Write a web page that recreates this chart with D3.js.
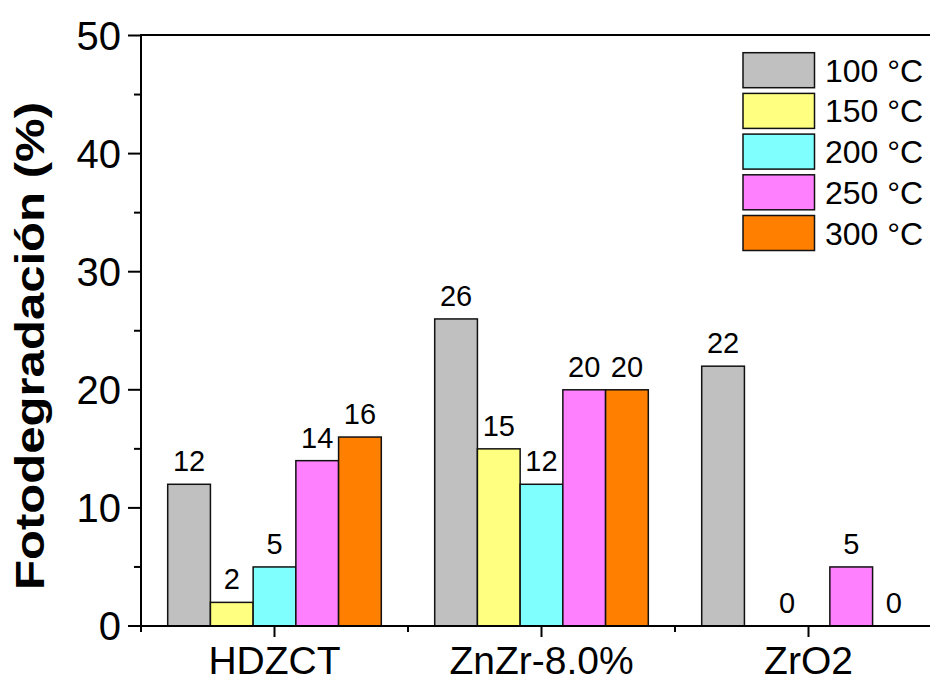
<!DOCTYPE html>
<html>
<head>
<meta charset="utf-8">
<script src="https://cdn.jsdelivr.net/npm/d3@7"></script>
<style>
  html, body { margin: 0; padding: 0; background: #fff; }
  svg { display: block; }
  text { font-family: "Liberation Sans", Arial, Helvetica, sans-serif; fill: #000; }
</style>
</head>
<body>
<svg id="chart" width="930" height="682"></svg>
<script>
// Samples (groups along the x axis)
const categories = ["HDZCT", "ZnZr-8.0%", "ZrO2"];
// Calcination temperatures (one bar per temperature in every group)
const series = ["100 °C", "150 °C", "200 °C", "250 °C", "300 °C"];
// Photodegradation (%) per sample, in the order of `series`
const valuesHDZCT = [12, 2, 5, 14, 16];
const valuesZnZr = [26, 15, 12, 20, 20];
const valuesZrO2 = [22, 0, 0, 5, 0];
const yTicks = [0, 10, 20, 30, 40, 50];
const yMinorTicks = [5, 15, 25, 35, 45];

const colors = ["#C0C0C0", "#FFFF80", "#80FFFF", "#FF80FF", "#FF8000"];

const rows = [valuesHDZCT, valuesZnZr, valuesZrO2].map((vals, i) => ({
  category: categories[i],
  values: vals.map((v, j) => ({ key: series[j], value: v, idx: j }))
}));

const svg = d3.select("#chart");
const plotLeft = 141, plotTop = 35.5, plotBottom = 626, plotRight = 942;

const x0 = d3.scaleBand().domain(categories).range([plotLeft, plotRight]).paddingInner(0).paddingOuter(0);
const x1 = d3.scaleBand().domain(series).range([0, x0.bandwidth()]).paddingInner(0).paddingOuter(0.625);
const y = d3.scaleLinear().domain([0, 50]).range([plotBottom, plotTop]);
const color = d3.scaleOrdinal().domain(series).range(colors);

// Bars
const groups = svg.append("g").selectAll("g")
  .data(rows).join("g")
  .attr("transform", d => `translate(${x0(d.category)},0)`);

groups.selectAll("rect")
  .data(d => d.values).join("rect")
  .attr("x", d => x1(d.key))
  .attr("y", d => y(d.value))
  .attr("width", x1.bandwidth())
  .attr("height", d => y(0) - y(d.value))
  .attr("fill", d => color(d.key))
  .attr("stroke", "#111")
  .attr("stroke-width", 1.5);

// Value labels; neighbouring zero bars share one label
groups.each(function (d) {
  const labels = [];
  const vals = d.values;
  for (let j = 0; j < vals.length; j++) {
    const v = vals[j];
    if (v.value === 0 && j + 1 < vals.length && vals[j + 1].value === 0) {
      labels.push({ value: 0, cx: x1(v.key) + x1.bandwidth() });
      j++;
    } else {
      labels.push({ value: v.value, cx: x1(v.key) + x1.bandwidth() / 2 });
    }
  }
  d3.select(this).selectAll("text.val")
    .data(labels).join("text")
    .attr("class", "val")
    .attr("x", l => l.cx)
    .attr("y", l => y(l.value) - 13)
    .attr("text-anchor", "middle")
    .style("font-size", "29px")
    .text(l => l.value);
});

// Axes
const axisG = svg.append("g").attr("stroke", "#000").attr("stroke-width", 2).attr("fill", "none");
// left axis line
axisG.append("line").attr("x1", plotLeft).attr("x2", plotLeft).attr("y1", plotTop - 0.5).attr("y2", plotBottom + 1);
// bottom axis line
axisG.append("line").attr("x1", plotLeft - 1).attr("x2", plotRight).attr("y1", plotBottom).attr("y2", plotBottom);
// top frame line
axisG.append("line").attr("x1", plotLeft - 1).attr("x2", plotRight).attr("y1", plotTop - 0.5).attr("y2", plotTop - 0.5);

// y ticks
axisG.selectAll("line.ymaj").data(yTicks).join("line")
  .attr("class", "ymaj")
  .attr("x1", plotLeft - 13).attr("x2", plotLeft)
  .attr("y1", d => y(d)).attr("y2", d => y(d));
axisG.selectAll("line.ymin").data(yMinorTicks).join("line")
  .attr("class", "ymin")
  .attr("x1", plotLeft - 7).attr("x2", plotLeft)
  .attr("y1", d => y(d)).attr("y2", d => y(d));

svg.append("g").selectAll("text").data(yTicks).join("text")
  .attr("x", 121)
  .attr("y", d => y(d) + 14)
  .attr("text-anchor", "end")
  .style("font-size", "40px")
  .text(d => d);

// x ticks: major at group centres, minor at group boundaries
const boundaries = categories.map(c => x0(c)).concat([plotRight]);
axisG.selectAll("line.xmaj").data(categories).join("line")
  .attr("class", "xmaj")
  .attr("x1", d => x0(d) + x0.bandwidth() / 2).attr("x2", d => x0(d) + x0.bandwidth() / 2)
  .attr("y1", plotBottom).attr("y2", plotBottom + 11);
axisG.selectAll("line.xmin").data(boundaries).join("line")
  .attr("class", "xmin")
  .attr("x1", d => d).attr("x2", d => d)
  .attr("y1", plotBottom).attr("y2", plotBottom + 6);

svg.append("g").selectAll("text").data(categories).join("text")
  .attr("x", d => x0(d) + x0.bandwidth() / 2)
  .attr("y", 674)
  .attr("text-anchor", "middle")
  .style("font-size", "39px")
  .text(d => d);

// y axis title
svg.append("text")
  .attr("transform", "translate(44,346) rotate(-90)")
  .attr("text-anchor", "middle")
  .attr("textLength", 488)
  .attr("lengthAdjust", "spacingAndGlyphs")
  .style("font-size", "41px")
  .style("font-weight", "bold")
  .text("Fotodegradación (%)");

// Legend
const legend = svg.append("g").selectAll("g")
  .data(series).join("g")
  .attr("transform", (d, i) => `translate(743,${52.7 + i * 40.7})`);
legend.append("rect")
  .attr("width", 71.5).attr("height", 35)
  .attr("fill", d => color(d))
  .attr("stroke", "#111").attr("stroke-width", 1.5);
legend.append("text")
  .attr("x", 82).attr("y", 17.5 + 11.5)
  .style("font-size", "32px")
  .text(d => d);
</script>
</body>
</html>
